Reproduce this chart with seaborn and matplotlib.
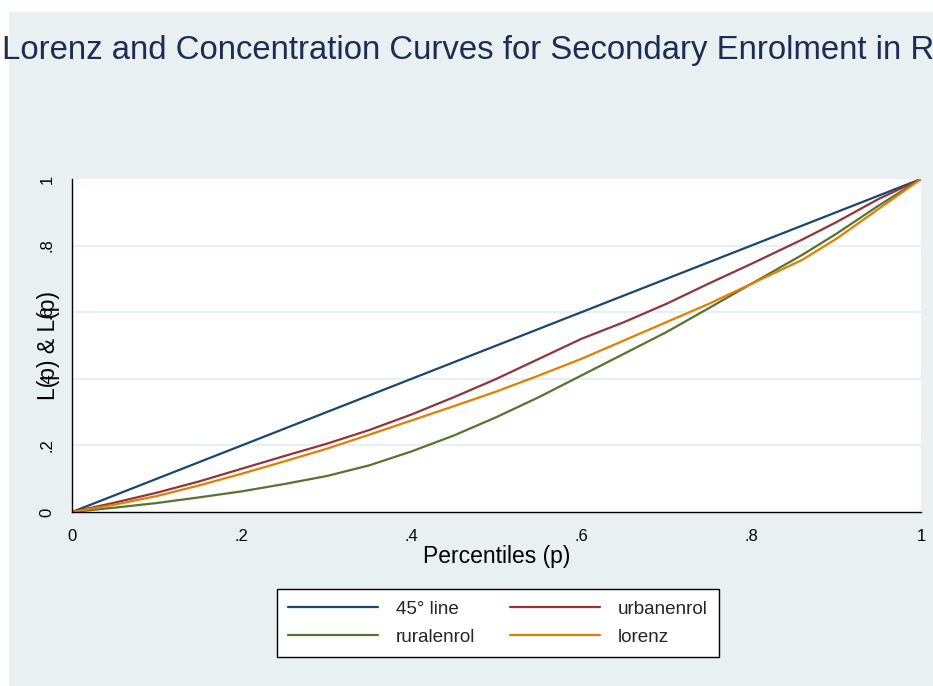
import matplotlib
matplotlib.use("Agg")
import matplotlib.pyplot as plt
import matplotlib.patches as mpatches
import numpy as np
import pandas as pd
import seaborn as sns

# ---- data ----
percentiles = [0, .05, .10, .15, .20, .25, .30, .35, .40, .45, .50, .55, .60, .65, .70, .75, .80, .86, .90, .95, 1.0]
line45 = [0, .05, .10, .15, .20, .25, .30, .35, .40, .45, .50, .55, .60, .65, .70, .75, .80, .86, .90, .95, 1.0]
urbanenrol = [0, .028, .058, .092, .130, .168, .205, .246, .293, .345, .400, .460, .520, .570, .625, .686, .745, .818, .870, .940, 1.0]
ruralenrol = [0, .013, .027, .044, .062, .084, .108, .140, .182, .230, .285, .345, .410, .475, .540, .612, .685, .772, .835, .920, 1.0]
lorenz = [0, .022, .048, .080, .115, .152, .190, .232, .275, .318, .362, .410, .460, .515, .570, .625, .685, .757, .820, .910, 1.0]

series_names = ["45° line", "urbanenrol", "ruralenrol", "lorenz"]
series_colors = ["#1a476f", "#90353b", "#55752f", "#e37e00"]
x_ticks = [0, .2, .4, .6, .8, 1]
x_ticklabels = ["0", ".2", ".4", ".6", ".8", "1"]
y_ticks = [0, .2, .4, .6, .8, 1]
y_ticklabels = ["0", ".2", ".4", ".6", ".8", "1"]
title = "Lorenz and Concentration Curves for Secondary Enrolment in Rwanda"

sns.set_style("white")
plt.rcParams["font.family"] = ["Liberation Sans", "DejaVu Sans"]

W, H = 933, 686
fig = plt.figure(figsize=(W / 100, H / 100), dpi=100, facecolor="white")
bg = "#E8F0F2"
fig.patches.append(mpatches.Rectangle((9 / W, 0), 1 - 9 / W, 1 - 12 / H,
                                      transform=fig.transFigure, facecolor=bg,
                                      edgecolor="none", zorder=-10))

ax = fig.add_axes([72 / W, 1 - 512 / H, (921 - 72) / W, (512 - 179) / H])
ax.set_facecolor("white")

df = pd.DataFrame({"p": percentiles * 4,
                   "value": line45 + urbanenrol + ruralenrol + lorenz,
                   "series": sum([[n] * len(percentiles) for n in series_names], [])})
handles = {}
for name, col in zip(series_names, series_colors):
    sub = df[df["series"] == name]
    sns.lineplot(data=sub, x="p", y="value", color=col, lw=1.6, ax=ax,
                 label=name, legend=False, sort=False)
    handles[name] = ax.lines[-1]

ax.set_xlim(0, 1)
ax.set_ylim(0, 1)
ax.set_xticks(x_ticks)
ax.set_xticklabels(x_ticklabels)
ax.set_yticks(y_ticks)
ax.set_yticklabels(y_ticklabels, rotation=90, va="center")
for yv in y_ticks[1:-1]:
    ax.axhline(yv, color=bg, lw=1.6, zorder=0)
for s in ["top", "right"]:
    ax.spines[s].set_visible(False)
for s in ["left", "bottom"]:
    ax.spines[s].set_color("black")
    ax.spines[s].set_linewidth(1.0)
ax.tick_params(axis="both", direction="out", length=4.5, width=1.0, color="black",
               labelsize=12, labelcolor="black")
ax.tick_params(axis="x", pad=7.5)
ax.tick_params(axis="y", pad=8)

ax.set_xlabel("Percentiles (p)", fontsize=16.5, color="black", labelpad=1)
ax.set_ylabel("L(p) & L(p)", fontsize=16.5, color="black")
ax.yaxis.set_label_coords(-12 / 849, 0.5)

fig.text(2 / W, 1 - 50 / H, title, fontsize=23.7, color="#1c2d54",
         ha="left", va="center")

order = ["45° line", "ruralenrol", "urbanenrol", "lorenz"]
leg = fig.legend([handles[n] for n in order], order, loc="center",
                 bbox_to_anchor=(497.9 / W, 1 - 623 / H), ncol=2,
                 fontsize=13.6, frameon=True, fancybox=False, shadow=False,
                 handlelength=4.76, handletextpad=0.95, columnspacing=1.85,
                 labelspacing=0.56, borderpad=0.6)
leg.get_frame().set_edgecolor("black")
leg.get_frame().set_linewidth(1.0)
leg.get_frame().set_facecolor("white")
leg.get_frame().set_alpha(1)

fig.savefig("out.png", dpi=100, facecolor="white")
